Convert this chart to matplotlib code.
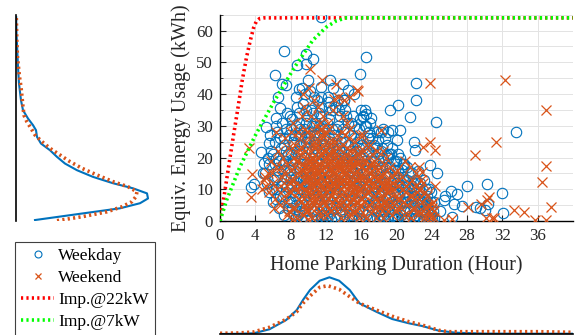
import numpy as np
import matplotlib
matplotlib.use("Agg")
import matplotlib.pyplot as plt
from matplotlib.ticker import MultipleLocator
from matplotlib.lines import Line2D

plt.rcParams['font.family'] = ['Liberation Serif', 'DejaVu Serif']

BLUE = '#0072BD'
ORANGE = '#D95319'

# ---- weekday sessions: (parking hours, energy kWh) ----
weekday_pts = [
    # outliers / sparse region
    (11.5, 64.4), (7.3, 53.7), (16.5, 51.6), (9.7, 52.7), (10.5, 51.1), (9.8, 49.5),
    (8.7, 49.3), (6.2, 46.0), (15.9, 46.2), (22.2, 43.5), (22.2, 38.2), (20.2, 36.6),
    (21.5, 32.8), (24.5, 31.1), (33.5, 27.9), (7.0, 43.2), (7.5, 43.0), (6.8, 35.7),
    (6.4, 32.3), (5.2, 29.6), (4.7, 21.8), (3.8, 11.8), (3.5, 10.8), (22.0, 24.9),
    (22.1, 22.5), (22.4, 15.8), (23.8, 17.6), (24.6, 15.0), (19.5, 28.8), (20.4, 28.6),
    (20.0, 25.4), (28.0, 11.0), (30.2, 11.7), (32.0, 8.9), (32.1, 2.6), (26.8, 8.4),
    (26.5, 5.5), (25.4, 6.6), (29.0, 4.5), (29.5, 4.0), (30.4, 5.3), (27.4, 4.7),
    (26.3, 1.4), (13.9, 43.2), (13.7, 37.0), (14.1, 38.0), (16.0, 34.9), (16.2, 32.8),
    (16.6, 33.8), (17.1, 32.5), (17.9, 25.4), (18.5, 29.1), (15.2, 40.1), (14.5, 41.2),
    (12.5, 44.3), (11.5, 42.2), (12.2, 37.5), (9.0, 41.7), (8.6, 39.1), (10.0, 44.5),
    (5.0, 18.4), (4.9, 15.2), (5.6, 24.5), (6.6, 39.0), (25.5, 8.0), (26.2, 9.4),
    (24.9, 3.2), (30.0, 3.6), (19.3, 35.0), (18.9, 20.9),
    # x 5-8
    (5.1, 15), (5.3, 12), (5.5, 9), (5.6, 18), (5.8, 22), (6.0, 6), (6.1, 13), (6.2, 25),
    (6.3, 10), (6.4, 20), (6.5, 28), (6.6, 16), (6.7, 4), (6.8, 8), (6.9, 23), (7.0, 12),
    (7.0, 31), (7.1, 18), (7.2, 2), (7.3, 26), (7.4, 14), (7.5, 9), (7.6, 34), (7.7, 21),
    (7.8, 6), (7.9, 16), (5.7, 27), (6.3, 30), (6.0, 21), (7.5, 29), (6.9, 11),
    (6.5, 14), (6.2, 18), (6.8, 26), (5.9, 10), (6.4, 7), (5.4, 20), (6.7, 19),
    # x 7-9
    (7.2, 24), (7.4, 19), (7.6, 11), (7.8, 27), (8.0, 14), (8.2, 18), (8.4, 2), (8.6, 30),
    (8.8, 10), (9.0, 3), (7.1, 8), (7.3, 16), (7.7, 4), (7.9, 33), (8.1, 6), (8.3, 25),
    (8.5, 20), (8.7, 12), (8.9, 27), (7.5, 22),
    # x 8-10
    (8.0, 11), (8.1, 29), (8.2, 4), (8.3, 19), (8.4, 24), (8.5, 8), (8.6, 14), (8.7, 36),
    (8.8, 2), (8.9, 22), (9.0, 17), (9.0, 31), (9.1, 10), (9.2, 27), (9.3, 6), (9.4, 13),
    (9.5, 20), (9.6, 40), (9.6, 3), (9.7, 25), (9.8, 15), (9.9, 9), (9.9, 33), (8.2, 32),
    (8.5, 27), (8.8, 17), (9.2, 1), (9.4, 37), (9.7, 18), (8.1, 21), (8.6, 5), (9.1, 24),
    (9.8, 12), (8.3, 13), (9.5, 29), (8.9, 34), (9.3, 42), (8.4, 9),
    # x 9-11
    (9.1, 14), (9.3, 18), (9.5, 7), (9.7, 31), (9.9, 16), (10.1, 23), (10.3, 10),
    (10.5, 3), (10.7, 27), (10.9, 19), (9.2, 21), (9.4, 5), (9.6, 26), (9.8, 35),
    (10.0, 12), (10.2, 7), (10.4, 30), (10.6, 24), (10.8, 15), (11.0, 2), (9.5, 11),
    (10.5, 34), (10.9, 31), (9.1, 29), (10.2, 25),
    # x 10-12
    (10.0, 5), (10.1, 28), (10.1, 18), (10.2, 12), (10.3, 35), (10.3, 1), (10.4, 22),
    (10.5, 8), (10.6, 16), (10.6, 30), (10.7, 3), (10.8, 25), (10.9, 11), (11.0, 19),
    (11.0, 38), (11.1, 6), (11.2, 14), (11.3, 27), (11.4, 2), (11.5, 21), (11.5, 33),
    (11.6, 9), (11.7, 17), (11.8, 4), (11.9, 24), (11.9, 12), (10.2, 41), (10.5, 20),
    (10.8, 7), (11.2, 30), (11.6, 0.5), (10.4, 14), (11.3, 10), (10.9, 23), (11.8, 29),
    (10.0, 26), (10.7, 39), (11.4, 36),
    # x 11-13
    (11.1, 22), (11.3, 5), (11.5, 15), (11.7, 26), (11.9, 8), (12.1, 13), (12.3, 23),
    (12.5, 6), (12.7, 29), (12.9, 18), (11.2, 34), (11.4, 12), (11.6, 19), (11.8, 2),
    (12.0, 9), (12.2, 16), (12.4, 32), (12.6, 4), (12.8, 11), (13.0, 21), (11.5, 39),
    (12.3, 36), (11.0, 28), (12.7, 25),
    # x 12-14
    (12.0, 15), (12.1, 7), (12.1, 31), (12.2, 20), (12.3, 2), (12.4, 26), (12.5, 11),
    (12.6, 18), (12.7, 35), (12.7, 5), (12.8, 23), (12.9, 13), (13.0, 9), (13.1, 29),
    (13.2, 16), (13.3, 1), (13.4, 21), (13.5, 6), (13.6, 33), (13.6, 12), (13.7, 25),
    (13.8, 3), (13.9, 18), (13.9, 9), (12.2, 39), (12.5, 14), (12.9, 27), (13.3, 19),
    (13.7, 14), (12.0, 22), (12.6, 0.5), (13.0, 36), (13.5, 23), (12.4, 9), (13.2, 4),
    (12.8, 42), (13.4, 38),
    # x 13-15
    (13.1, 12), (13.3, 24), (13.5, 15), (13.7, 7), (13.9, 29), (14.1, 10), (14.3, 17),
    (14.5, 31), (14.7, 4), (14.9, 22), (13.2, 9), (13.4, 30), (13.6, 2), (13.8, 20),
    (14.0, 6), (14.2, 25), (14.4, 13), (14.6, 19), (14.8, 27), (15.0, 15), (13.5, 35),
    (14.3, 33),
    # x 14-16
    (14.0, 14), (14.1, 28), (14.2, 5), (14.3, 20), (14.4, 10), (14.5, 24), (14.6, 2),
    (14.7, 16), (14.8, 31), (14.9, 8), (15.0, 19), (15.1, 12), (15.2, 26), (15.3, 4),
    (15.4, 22), (15.5, 15), (15.6, 9), (15.7, 29), (15.8, 1), (15.9, 18), (15.9, 11),
    (14.2, 35), (14.5, 7), (15.0, 2), (15.5, 25), (14.7, 21), (15.3, 13), (14.0, 38),
    (15.8, 23), (14.9, 17), (15.1, 33),
    # x 15-17
    (15.1, 21), (15.3, 7), (15.5, 18), (15.7, 11), (15.9, 26), (16.1, 3), (16.3, 15),
    (16.5, 21), (16.7, 8), (16.9, 28), (15.2, 30), (15.4, 16), (15.6, 3), (15.8, 14),
    (16.0, 9), (16.2, 23), (16.4, 12), (16.6, 18), (16.8, 26), (17.0, 5), (15.9, 32),
    (16.6, 30),
    # x 16-18
    (16.0, 13), (16.1, 24), (16.2, 6), (16.3, 19), (16.4, 30), (16.5, 10), (16.6, 2),
    (16.7, 16), (16.8, 22), (16.9, 8), (17.0, 27), (17.1, 14), (17.2, 4), (17.3, 19),
    (17.4, 11), (17.5, 24), (17.6, 6), (17.7, 16), (17.8, 1), (17.9, 21), (17.9, 9),
    (16.4, 35), (16.2, 33), (17.0, 31), (17.6, 12), (16.8, 5), (16.0, 20), (17.3, 0.5),
    # x 17-19
    (17.1, 20), (17.3, 9), (17.5, 14), (17.7, 23), (17.9, 3), (18.1, 16), (18.3, 11),
    (18.5, 20), (18.7, 3), (18.9, 24), (17.2, 26), (17.4, 6), (17.6, 19), (17.8, 13),
    (18.0, 8), (18.2, 2), (18.4, 23), (18.6, 5), (18.8, 17), (19.0, 10), (17.8, 28),
    # x 18-20
    (18.0, 13), (18.1, 5), (18.2, 22), (18.3, 9), (18.4, 17), (18.5, 2), (18.6, 12),
    (18.7, 26), (18.8, 7), (18.9, 15), (19.0, 20), (19.1, 3), (19.2, 11), (19.3, 17),
    (19.4, 6), (19.5, 23), (19.6, 9), (19.7, 14), (19.8, 1), (19.9, 19), (19.9, 5),
    (18.3, 28), (19.0, 28), (19.2, 21), (18.6, 0.5),
    # x 19-21
    (19.1, 15), (19.3, 8), (19.5, 12), (19.7, 19), (19.9, 12), (20.1, 9), (20.3, 14),
    (20.5, 6), (20.7, 18), (20.9, 3), (19.2, 4), (19.4, 21), (19.6, 2), (19.8, 16),
    (20.0, 6), (20.2, 1), (20.4, 11), (20.6, 16), (20.8, 9), (21.0, 13),
    # x 20-22
    (20.0, 12), (20.1, 4), (20.2, 16), (20.3, 8), (20.4, 20), (20.5, 2), (20.6, 11),
    (20.7, 14), (20.8, 6), (20.9, 18), (21.0, 9), (21.1, 1), (21.2, 13), (21.3, 4),
    (21.4, 8), (21.5, 15), (21.6, 2), (21.7, 11), (21.8, 6), (21.9, 12), (20.2, 21),
    (20.8, 0.5), (21.2, 17),
    # x 21-24
    (21.1, 6), (21.3, 11), (21.5, 3), (21.7, 15), (21.9, 8), (22.1, 13), (22.3, 3),
    (22.5, 7), (22.7, 12), (22.9, 6), (23.1, 3), (23.3, 10), (23.5, 6), (23.7, 1),
    (23.9, 9), (24.0, 2), (24.2, 6), (21.2, 9), (22.0, 10), (23.2, 7),
    (22.0, 4), (22.1, 8), (22.2, 2), (22.3, 12), (22.4, 6), (22.5, 10), (22.6, 1),
    (22.7, 5), (22.8, 9), (22.9, 3), (23.0, 7), (23.1, 13), (23.2, 2), (23.3, 5),
    (23.4, 8), (23.5, 1), (23.6, 4), (23.7, 10), (23.8, 2), (23.9, 6), (24.1, 3), (24.3, 1),
    # sessions with almost no energy
    (8.5, 0.6), (9.8, 0.4), (11.0, 0.6), (12.0, 0.4), (13.0, 0.5), (14.0, 0.6),
    (15.0, 0.4), (16.0, 0.5), (17.0, 0.6), (18.0, 0.4), (19.0, 0.5), (20.0, 0.6),
    (21.0, 0.4), (22.0, 0.5), (23.0, 0.4), (24.0, 0.5),
]

# ---- weekend sessions: (parking hours, energy kWh) ----
weekend_pts = [
    # outliers / sparse region
    (10.2, 48.0), (11.6, 44.3), (13.2, 43.2), (12.9, 38.4), (15.5, 41.4), (14.7, 39.1),
    (23.8, 43.5), (32.3, 44.5), (36.9, 35.1), (36.9, 17.4), (36.5, 12.4), (37.5, 4.5),
    (31.3, 24.9), (28.9, 20.7), (23.8, 24.9), (24.4, 22.5), (23.0, 23.4), (24.4, 11.0),
    (3.3, 23.1), (3.6, 14.7), (3.5, 7.6), (8.3, 0.5), (25.4, 0.3), (30.8, 0.8),
    (33.3, 3.5), (34.5, 2.9), (35.7, 0.3), (36.9, 0.3), (28.1, 4.3), (29.6, 5.5),
    (30.3, 6.6), (30.5, 7.6), (30.1, 0.8), (31.0, 0.8), (18.3, 28.6), (8.9, 22.8),
    (24.0, 5.5), (22.6, 9.8), (22.9, 15.5), (26.3, 0.6),
    # x 5-8
    (4.8, 10), (5.0, 13), (5.2, 11), (5.4, 15), (5.6, 9), (5.8, 19), (6.0, 12), (6.2, 7),
    (6.4, 17), (6.6, 22), (6.8, 5), (7.0, 14), (7.2, 10), (7.4, 26), (7.6, 18), (7.8, 3),
    (7.9, 12), (6.3, 28), (5.1, 14), (7.3, 8),
    # x 7-9
    (7.1, 20), (7.3, 15), (7.5, 6), (7.7, 23), (7.9, 9), (8.1, 13), (8.3, 4), (8.5, 24),
    (8.7, 15), (8.9, 7), (7.2, 12), (7.6, 2), (8.0, 28), (8.4, 20), (8.8, 9), (6.9, 17),
    (6.5, 10), (5.9, 15), (6.1, 4),
    # x 8-10
    (8.0, 16), (8.1, 9), (8.2, 23), (8.4, 13), (8.5, 4), (8.6, 19), (8.8, 28), (8.9, 11),
    (9.0, 7), (9.1, 21), (9.2, 15), (9.3, 33), (9.4, 2), (9.5, 17), (9.6, 10), (9.7, 25),
    (9.8, 13), (9.9, 6), (9.9, 20), (8.3, 31), (9.4, 40), (8.7, 1), (9.0, 26), (9.6, 29),
    (8.5, 17), (9.2, 11), (9.7, 3),
    # x 9-11
    (9.1, 11), (9.3, 23), (9.5, 13), (9.7, 8), (9.9, 28), (10.1, 17), (10.3, 12),
    (10.5, 20), (10.7, 8), (10.9, 30), (9.2, 6), (9.4, 18), (9.6, 22), (9.8, 4),
    (10.0, 19), (10.2, 27), (10.4, 6), (10.6, 14), (10.8, 23), (11.0, 16), (9.5, 36),
    (10.1, 42), (10.4, 1), (9.9, 15),
    # x 10-12
    (10.0, 14), (10.1, 9), (10.2, 22), (10.3, 4), (10.4, 17), (10.5, 27), (10.6, 11),
    (10.7, 19), (10.8, 6), (10.9, 15), (11.0, 24), (11.1, 12), (11.2, 2), (11.3, 18),
    (11.4, 8), (11.5, 29), (11.6, 14), (11.7, 21), (11.8, 10), (11.9, 5), (11.9, 17),
    (10.3, 33), (10.6, 38), (11.1, 36), (11.4, 26), (10.0, 0.5), (10.8, 12), (11.6, 2),
    (10.5, 9), (11.3, 31), (10.2, 16), (11.0, 7), (10.7, 24), (11.8, 13),
    # x 11-13
    (11.1, 18), (11.3, 11), (11.5, 23), (11.7, 7), (11.9, 27), (12.1, 14), (12.3, 21),
    (12.5, 10), (12.7, 16), (12.9, 4), (11.2, 15), (11.4, 29), (11.6, 4), (11.8, 22),
    (12.0, 17), (12.2, 11), (12.4, 19), (12.6, 8), (12.8, 25), (13.0, 13), (11.7, 33),
    (12.4, 29), (11.0, 10), (12.1, 2), (12.9, 17), (11.3, 21),
    # x 12-14
    (12.0, 12), (12.1, 20), (12.2, 7), (12.3, 16), (12.4, 25), (12.5, 3), (12.6, 13),
    (12.7, 19), (12.8, 9), (12.9, 22), (13.0, 15), (13.1, 5), (13.2, 11), (13.3, 27),
    (13.4, 17), (13.5, 8), (13.6, 20), (13.7, 1), (13.8, 13), (13.9, 24), (12.2, 31),
    (12.8, 35), (13.4, 39), (14.0, 38), (12.5, 17), (13.0, 10), (13.6, 5), (12.0, 28),
    (12.3, 10), (13.2, 18),
    # x 13-15
    (13.1, 20), (13.3, 13), (13.5, 18), (13.7, 10), (13.9, 16), (14.1, 8), (14.3, 21),
    (14.5, 12), (14.7, 17), (14.9, 6), (13.2, 7), (13.4, 23), (13.6, 14), (13.8, 28),
    (14.0, 16), (14.2, 13), (14.4, 5), (14.6, 26), (14.8, 9), (15.0, 14), (13.9, 33),
    (14.5, 2),
    # x 14-16
    (14.0, 11), (14.1, 18), (14.2, 4), (14.3, 14), (14.4, 23), (14.5, 8), (14.6, 16),
    (14.7, 29), (14.8, 12), (14.9, 2), (15.0, 20), (15.1, 9), (15.2, 15), (15.3, 25),
    (15.4, 6), (15.5, 13), (15.6, 18), (15.7, 1), (15.8, 10), (15.9, 22), (14.4, 31),
    (15.6, 41), (15.2, 3), (14.8, 19),
    # x 15-17
    (15.1, 12), (15.3, 19), (15.5, 9), (15.7, 15), (15.9, 5), (16.1, 17), (16.3, 22),
    (16.5, 12), (16.7, 4), (16.9, 15), (15.2, 22), (15.4, 11), (15.6, 6), (15.8, 19),
    (16.0, 10), (16.2, 14), (16.4, 8), (16.6, 19), (16.8, 11), (17.0, 13), (15.9, 27),
    (16.5, 1),
    # x 16-18
    (16.0, 14), (16.1, 7), (16.2, 19), (16.3, 11), (16.4, 2), (16.5, 16), (16.6, 24),
    (16.7, 9), (16.8, 13), (16.9, 5), (17.0, 18), (17.1, 10), (17.2, 21), (17.3, 3),
    (17.4, 14), (17.5, 8), (17.6, 17), (17.7, 1), (17.8, 11), (17.9, 6), (16.2, 27),
    (17.0, 24),
    # x 17-19
    (17.1, 15), (17.3, 11), (17.5, 19), (17.7, 7), (17.9, 14), (18.1, 10), (18.3, 14),
    (18.5, 6), (18.7, 11), (18.9, 16), (17.2, 6), (17.4, 18), (17.6, 4), (17.8, 22),
    (18.0, 9), (18.2, 12), (18.4, 3), (18.6, 18), (18.8, 5), (19.0, 11), (18.5, 22),
    # x 18-20
    (18.0, 13), (18.1, 4), (18.2, 17), (18.3, 8), (18.4, 11), (18.5, 1), (18.6, 15),
    (18.7, 6), (18.8, 20), (18.9, 9), (19.0, 3), (19.1, 13), (19.2, 7), (19.3, 17),
    (19.4, 10), (19.5, 2), (19.6, 12), (19.7, 5), (19.8, 15), (19.9, 8),
    # x 19-24
    (19.1, 9), (19.3, 5), (19.5, 14), (19.7, 10), (19.9, 3), (20.1, 7), (20.3, 13),
    (20.5, 4), (20.7, 10), (20.9, 6), (21.1, 11), (21.3, 2), (21.5, 8), (21.7, 13),
    (21.9, 4), (22.1, 7), (22.3, 9), (22.5, 3), (22.7, 10), (22.9, 6), (23.1, 1),
    (23.3, 4), (23.5, 8), (23.7, 3), (23.9, 1), (24.1, 6), (24.3, 3), (20.0, 16),
    (21.0, 19), (22.2, 15),
    (20.0, 4), (20.2, 11), (20.4, 7), (20.6, 14), (20.8, 2), (21.0, 9), (21.2, 5),
    (21.4, 12), (21.6, 1), (21.8, 8), (22.0, 4), (22.2, 11), (22.4, 2), (22.6, 7),
    (22.8, 13), (23.0, 3), (23.2, 9), (23.4, 1), (23.6, 5), (23.8, 2), (24.0, 4),
    (24.2, 1), (22.5, 17), (21.5, 17), (23.0, 12),
    # densest weekend block
    (9.6, 5), (9.8, 9), (10.0, 3), (10.2, 11), (10.4, 20), (10.6, 7), (10.8, 17),
    (11.0, 13), (11.2, 9), (11.4, 16), (11.6, 24), (11.8, 6), (12.0, 19), (12.2, 14),
    (12.4, 4), (12.6, 22), (12.8, 12), (13.0, 7), (13.2, 21), (13.4, 11), (13.6, 16),
    (13.8, 6), (14.0, 20), (14.2, 9), (14.4, 17), (14.6, 11), (14.8, 22), (15.0, 7),
    (15.2, 18), (15.4, 10), (15.6, 14), (15.8, 4), (16.0, 17), (10.1, 13), (10.5, 15),
    (10.9, 4), (11.3, 14), (11.7, 11), (12.1, 9), (12.5, 21), (12.9, 15), (13.3, 3),
    (13.7, 18), (14.1, 15), (14.5, 19), (14.9, 11), (15.3, 8), (15.7, 21), (9.7, 15),
    (10.3, 19), (11.1, 20), (11.9, 15), (12.7, 12), (13.5, 13), (14.3, 7), (15.1, 17),
    (16.3, 6), (16.8, 17), (17.3, 12), (17.8, 16), (18.3, 5), (18.8, 13), (19.3, 11),
    (10.6, 25), (11.5, 27), (12.3, 24), (13.1, 25), (14.2, 27), (9.3, 16), (8.8, 19),
    (8.4, 11), (12.4, 7), (13.9, 11), (11.2, 5), (15.5, 3), (16.9, 9), (14.6, 4),
]

# ---- implementable energy vs parking time for two charger ratings ----
imp22_hours = [0, 0.5, 1, 1.5, 2, 2.5, 3, 3.4, 3.8, 4.1, 4.5, 5, 40]
imp22_kwh = [0, 8.5, 17.5, 26.5, 35, 44, 51.5, 56.5, 60.8, 62.8, 63.8, 64, 64]
imp7_hours = [0, 0.75, 2.26, 4.1, 6.2, 8.46, 10.5, 12, 13.2, 14.3, 40]
imp7_kwh = [0, 6.6, 17.1, 27.5, 38, 48.5, 56.9, 61, 63.1, 64, 64]

# ---- marginal density profiles (relative units) ----
energy_grid_wd = [0.3, 2.4, 4.0, 5.6, 7.1, 8.7, 10.3, 11.9, 13.9, 16.0, 18.1, 20.2, 22.3,
                  24.4, 26.5, 28.6, 30.2, 32.3, 34.9, 38.0, 43.3, 48.5, 53.8, 59.0, 64.2]
energy_dens_wd = [19, 67, 104, 124, 132, 131, 117, 97, 77, 61, 49, 41, 34,
                  25, 21, 20, 17, 12, 7, 5, 3, 2, 1.3, 0.5, 0.2]
energy_grid_we = [0.1, 1.4, 2.9, 4.5, 6.1, 7.7, 9.2, 10.8, 12.4, 14.5, 16.6, 18.7, 20.8,
                  22.9, 25.0, 27.1, 29.2, 31.2, 33.3, 35.9, 39.1, 42.2, 45.4, 48.5, 51.6,
                  56.9, 64.2]
energy_dens_we = [41, 67, 91, 106, 116, 120, 121, 112, 97, 81, 66, 54, 44,
                  34, 26, 19, 15, 11, 8, 7, 6, 5, 3.5, 2.5, 1.5, 0.8, 0.3]

hours_grid_wd = [0, 2.0, 3.8, 5.6, 7.5, 8.7, 9.4, 10.2, 11.3, 12.4, 13.5, 14.7, 15.8,
                 17.7, 19.5, 21.4, 22.9, 24.8, 26.7, 30.0, 35.0, 40.0]
hours_dens_wd = [0, 0.2, 0.7, 4.7, 14, 24, 34, 44, 53.3, 56.7, 53.3, 44, 30.7,
                 22.3, 15, 10.7, 8, 3.3, 1.3, 0.4, 0.3, 0.3]
hours_grid_we = [0, 2.0, 3.8, 5.6, 7.5, 8.7, 9.4, 10.2, 11.3, 12.2, 13.5, 14.7, 15.8,
                 17.7, 19.5, 21.4, 22.9, 24.8, 25.9, 28.5, 32.3, 36.1, 40.0]
hours_dens_we = [0.7, 1.0, 2, 6.7, 14.7, 22.3, 30.7, 38, 46.7, 48.3, 44.7, 37.3, 30.7,
                 24, 17.8, 12.3, 9, 3.7, 2.3, 2.3, 2.3, 2.3, 1.7]

x_ticks = [0, 4, 8, 12, 16, 20, 24, 28, 32, 36]
y_ticks = [0, 10, 20, 30, 40, 50, 60]

W, H = 578, 335
fig = plt.figure(figsize=(W / 100, H / 100), dpi=100)
DOTS = (0, (0.6, 0.9))


def frac(x0, y0, x1, y1):
    return [x0 / W, 1 - y1 / H, (x1 - x0) / W, (y1 - y0) / H]


# ---------------- main scatter ----------------
ax = fig.add_axes(frac(220, 14.7, 573, 221))
wd = np.array(weekday_pts)
we = np.array(weekend_pts)
ax.plot(wd[:, 0], wd[:, 1], linestyle='none', marker='o', markersize=7.5,
        markerfacecolor='none', markeredgecolor=BLUE, markeredgewidth=0.8, zorder=3)
ax.plot(we[:, 0], we[:, 1], linestyle='none', marker='x', markersize=7,
        color=ORANGE, markeredgewidth=0.9, zorder=4)
ax.plot(imp22_hours, imp22_kwh, linestyle=DOTS, color='#FF0000', lw=2.6, zorder=5)
ax.plot(imp7_hours, imp7_kwh, linestyle=DOTS, color='#00FF00', lw=2.6, zorder=5)

ax.set_xlim(0, 40)
ax.set_ylim(0, 65)
ax.set_xticks(x_ticks)
ax.set_yticks(y_ticks)
ax.yaxis.set_minor_locator(MultipleLocator(5))
ax.grid(True, which='major', color='#e3e3e3', lw=0.7)
ax.grid(True, which='minor', axis='y', color='#e3e3e3', lw=0.7)
ax.set_axisbelow(True)
for s in ('top', 'right'):
    ax.spines[s].set_visible(False)
for s in ('left', 'bottom'):
    ax.spines[s].set_linewidth(1.0)
    ax.spines[s].set_color('black')
ax.tick_params(which='both', direction='in', labelsize=12.2, pad=5, colors='#262626',
               labelcolor='#262626')
ax.tick_params(which='major', length=4)
ax.tick_params(which='minor', length=2)
ax.set_xlabel('Home Parking Duration (Hour)', fontsize=14.5, color='#262626', labelpad=8)
ax.set_ylabel('Equiv. Energy Usage (kWh)', fontsize=14.5, color='#262626', labelpad=4)

# ---------------- left marginal (energy) ----------------
axl = fig.add_axes(frac(16, 14.7, 160, 221))
axl.plot(energy_dens_wd, energy_grid_wd, color=BLUE, lw=1.5)
axl.plot(energy_dens_we, energy_grid_we, color=ORANGE, lw=2.6, linestyle=DOTS)
axl.set_xlim(0, 144)
axl.set_ylim(0, 65)
axl.set_xticks([])
axl.set_yticks([])
for s in ('top', 'right', 'bottom'):
    axl.spines[s].set_visible(False)
axl.spines['left'].set_linewidth(1.2)
axl.patch.set_alpha(0)

# ---------------- bottom marginal (duration) ----------------
axb = fig.add_axes(frac(220, 270, 573, 334))
axb.plot(hours_grid_wd, hours_dens_wd, color=BLUE, lw=1.5)
axb.plot(hours_grid_we, hours_dens_we, color=ORANGE, lw=2.6, linestyle=DOTS)
axb.set_xlim(0, 40)
axb.set_ylim(0, 64)
axb.set_xticks([])
axb.set_yticks([])
for s in ('top', 'right', 'left'):
    axb.spines[s].set_visible(False)
axb.spines['bottom'].set_linewidth(1.2)
axb.patch.set_alpha(0)

# ---------------- legend ----------------
handles = [
    Line2D([], [], linestyle='none', marker='o', markersize=5, markerfacecolor='none',
           markeredgecolor=BLUE, markeredgewidth=0.8),
    Line2D([], [], linestyle='none', marker='x', markersize=5, color=ORANGE,
           markeredgewidth=0.9),
    Line2D([], [], linestyle=DOTS, color='#FF0000', lw=2.6),
    Line2D([], [], linestyle=DOTS, color='#00FF00', lw=2.6),
]
labels = ['Weekday', 'Weekend', 'Imp.@22kW', 'Imp.@7kW']
leg = fig.legend(handles, labels, loc='upper left', bbox_to_anchor=(15 / W, 1 - 242 / H),
                 borderaxespad=0, fontsize=12.5, frameon=True, fancybox=False,
                 edgecolor='#404040', framealpha=1, handlelength=1.9, handletextpad=0.25,
                 labelspacing=0.33, borderpad=0.35)
leg.get_frame().set_linewidth(0.8)

fig.savefig('out.png', dpi=100)
